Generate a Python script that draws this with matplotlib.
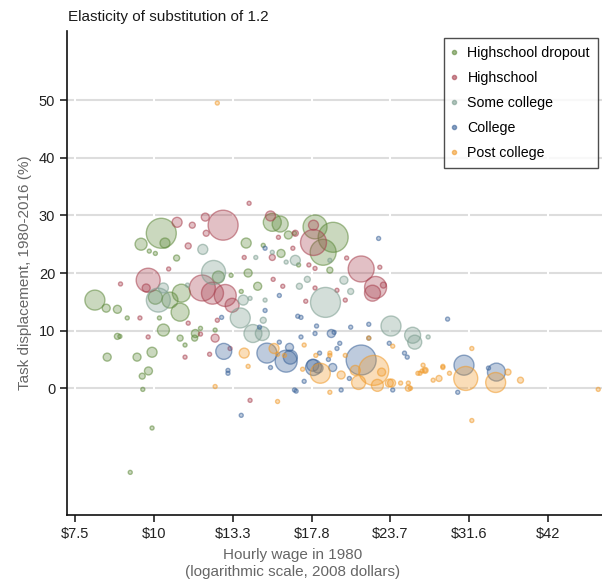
import numpy as np
import matplotlib
matplotlib.use("Agg")
import matplotlib.pyplot as plt
from matplotlib.colors import to_rgba
from matplotlib.lines import Line2D
from matplotlib.ticker import NullLocator

plt.rcParams['font.family'] = ['Liberation Sans Narrow', 'Liberation Sans', 'DejaVu Sans']

# Occupation cells: 1980 hourly wage, task displacement (%), employment weight
dropout_wage = [8.06, 10.27, 9.54, 10.41, 8.4, 8.75, 10.05, 11.05, 11.0, 10.6, 15.4, 15.85,
                18.0, 19.23, 18.54, 19.0, 14.0, 15.9, 16.33, 14.1, 14.6, 12.65, 10.35, 11.63,
                11.6, 9.93, 9.4, 8.43, 9.8, 9.58, 9.6, 9.93, 9.17, 8.75, 10.86, 11.0, 9.07,
                14.9, 16.7, 13.75, 12.5, 11.2, 16.95, 13.25, 8.83, 10.2, 11.85, 9.83, 10.05]
dropout_disp = [15.3, 26.9, 25.0, 25.2, 13.9, 13.7, 15.8, 16.5, 13.2, 15.3, 28.8, 28.5,
                28.0, 26.2, 23.6, 20.5, 25.2, 23.4, 26.6, 20.0, 17.7, 19.3, 10.1, 9.5,
                8.7, 6.25, 5.4, 5.4, 3.0, 2.1, -0.2, -6.9, -14.6, 9.0, 22.6, 8.7, 12.2,
                24.8, 26.9, 16.8, 10.1, 7.5, 21.4, 19.6, 9.0, 12.2, 10.4, 23.8, 23.4]
dropout_emp = [10.0, 22.5, 3.6, 2.5, 1.6, 1.6, 4.9, 8.1, 8.1, 6.4, 8.1, 6.4,
               14.4, 22.5, 16.9, 0.9, 2.5, 1.6, 1.6, 1.6, 1.6, 3.6, 3.6, 1.6,
               0.9, 2.5, 1.6, 1.6, 1.6, 0.9, 0.4, 0.4, 0.4, 0.9, 0.9, 0.9, 0.4,
               0.4, 0.4, 0.4, 0.4, 0.4, 0.4, 0.4, 0.4, 0.4, 0.4, 0.4, 0.4]

hs_wage = [12.87, 12.06, 10.88, 9.79, 9.72, 11.93, 12.38, 12.97, 13.3, 17.9, 17.9, 21.3,
           22.45, 22.2, 23.1, 15.3, 12.5, 16.75, 8.85, 9.5, 9.79, 11.33, 11.2, 11.85, 11.5,
           12.1, 11.33, 10.55, 12.6, 13.9, 15.4, 15.75, 15.45, 16.0, 14.2, 14.15, 16.6,
           17.6, 18.0, 20.2, 22.8, 18.0, 19.5, 20.1, 17.4, 12.25, 13.2]
hs_disp = [28.3, 29.7, 28.8, 18.75, 17.4, 17.4, 16.5, 16.1, 14.4, 25.3, 28.3, 20.7,
           17.5, 16.5, 17.9, 29.9, 8.7, 26.9, 18.1, 12.2, 8.9, 11.3, 5.4, 9.4, 28.3,
           26.9, 24.7, 20.7, 11.8, 22.7, 22.7, 26.2, 18.9, 17.7, -2.1, 32.1, 24.3,
           21.4, 20.8, 22.6, 21.0, 17.4, 17.0, 15.3, 15.1, 5.9, 6.9]
hs_emp = [22.5, 1.6, 2.5, 14.4, 1.6, 16.9, 12.1, 12.1, 4.9, 16.9, 2.5, 16.9,
          12.1, 6.4, 0.9, 2.5, 1.6, 0.9, 0.4, 0.4, 0.4, 0.4, 0.4, 0.4, 0.9,
          0.9, 0.9, 0.4, 0.4, 0.4, 0.9, 0.4, 0.4, 0.4, 0.4, 0.4, 0.4,
          0.4, 0.4, 0.4, 0.4, 0.4, 0.4, 0.4, 0.4, 0.4, 0.4]

sc_wage = [10.16, 12.43, 13.7, 14.35, 14.85, 18.7, 23.75, 25.7, 25.9, 16.75, 17.5, 20.0,
           20.5, 11.95, 10.35, 14.5, 16.2, 17.0, 15.4, 15.0, 14.2, 19.0, 11.3, 13.85,
           14.9, 27.2]
sc_disp = [15.3, 20.1, 12.2, 9.5, 9.5, 14.9, 10.8, 9.2, 8.0, 22.2, 18.9, 18.75,
           16.8, 24.1, 17.4, 22.7, 21.9, 17.7, 23.6, 15.3, 15.6, 22.2, 17.9, 15.3,
           11.8, 8.9]
sc_emp = [14.4, 14.4, 10.0, 8.1, 4.9, 22.5, 10.0, 6.4, 4.9, 2.5, 0.9, 1.6,
          0.9, 2.5, 2.5, 0.4, 0.4, 0.9, 0.4, 0.4, 0.4, 0.4, 0.4, 2.5,
          0.9, 0.4]

col_wage = [12.9, 15.1, 16.2, 16.4, 17.9, 21.3, 17.85, 18.2, 31.0, 34.9, 19.1, 16.45,
            19.2, 22.7, 16.9, 18.1, 18.0, 19.3, 20.5, 21.9, 19.7, 19.5, 23.6, 24.95,
            25.2, 21.9, 29.2, 20.4, 16.7, 19.8, 30.3, 33.9, 23.9, 15.8, 15.0, 17.1,
            14.7, 17.1, 15.0, 15.8, 13.1, 13.75, 17.3, 16.8, 15.3, 13.1, 18.3, 18.9, 12.8]
col_disp = [6.4, 6.1, 4.7, 7.1, 3.6, 4.9, 4.0, 3.5, 4.0, 2.8, 9.5, 5.4,
            3.6, 26.0, 12.5, 10.8, 9.5, 9.7, 10.6, 11.1, 7.8, 6.9, 7.8, 6.1,
            5.4, 8.7, 12.0, 1.7, -0.3, -0.3, -0.7, 3.5, -0.3, 16.1, 13.5, 12.3,
            10.6, 8.9, 24.3, 8.0, 3.1, -4.7, 1.2, -0.5, 3.6, 2.6, 6.1, 5.0, 12.3]
col_emp = [6.4, 10.0, 12.1, 1.6, 6.4, 22.5, 3.6, 2.5, 10.0, 8.1, 1.6, 4.9,
           1.6, 0.4, 0.4, 0.4, 0.4, 0.4, 0.4, 0.4, 0.4, 0.4, 0.4, 0.4,
           0.4, 0.4, 0.4, 0.4, 0.4, 0.4, 0.4, 0.4, 0.4, 0.4, 0.4, 0.4,
           0.4, 0.4, 0.4, 0.4, 0.4, 0.4, 0.4, 0.4, 0.4, 0.4, 0.4, 0.4, 0.4]

post_wage = [22.3, 21.1, 22.6, 23.6, 18.35, 31.2, 34.8, 36.4, 38.1, 13.9, 15.5, 20.85,
             22.95, 19.8, 23.8, 25.3, 26.9, 28.3, 21.9, 23.9, 17.3, 18.05, 19.0, 20.1,
             26.7, 26.9, 26.6, 27.7, 26.4, 31.9, 31.9, 50.6, 19.0, 25.5, 24.6, 28.7,
             29.4, 26.2, 25.3, 12.5, 15.7, 17.2, 15.7, 19.0, 14.1, 16.1, 28.7, 12.6]
post_disp = [3.1, 1.0, 0.5, 0.9, 2.6, 1.7, 1.0, 2.8, 1.4, 6.1, 6.9, 3.1,
             2.8, 2.3, 0.9, 0.0, 3.1, 1.7, 8.7, 7.3, 7.5, 5.7, 5.7, 5.7,
             4.0, 3.1, 3.0, 1.4, 2.6, 6.9, -5.6, -0.2, -0.7, 0.0, 0.9, 3.6,
             2.6, 2.6, 0.9, 0.3, -2.3, 3.3, 5.9, 6.1, 3.8, 5.7, 3.8, 49.5]
post_emp = [22.5, 4.9, 3.6, 1.6, 10.0, 14.4, 10.0, 0.9, 0.9, 2.5, 2.5, 2.5,
            1.6, 1.6, 1.6, 0.9, 0.9, 0.9, 0.4, 0.4, 0.4, 0.4, 0.4, 0.4,
            0.4, 0.4, 0.4, 0.4, 0.4, 0.4, 0.4, 0.4, 0.4, 0.4, 0.4, 0.4,
            0.4, 0.4, 0.4, 0.4, 0.4, 0.4, 0.4, 0.4, 0.4, 0.4, 0.4, 0.4]

groups = [
    ("Highschool dropout", dropout_wage, dropout_disp, dropout_emp, "#5f8a3c"),
    ("Highschool", hs_wage, hs_disp, hs_emp, "#a8414f"),
    ("Some college", sc_wage, sc_disp, sc_emp, "#7a9c8e"),
    ("College", col_wage, col_disp, col_emp, "#3b6399"),
    ("Post college", post_wage, post_disp, post_emp, "#f09a2a"),
]

xticks = [7.5, 10, 13.33, 17.78, 23.7, 31.6, 42.1]
xlabels = ["\\$7.5", "\\$10", "\\$13.3", "\\$17.8", "\\$23.7", "\\$31.6", "\\$42"]
yticks = [0, 10, 20, 30, 40, 50]

fig = plt.figure(figsize=(6.02, 5.81), dpi=100)
ax = fig.add_axes([0.1113, 0.1136, 0.8887, 0.833])

for name, w, d, e, c in groups:
    ax.scatter(w, d, s=np.array(e) * 20.7, facecolor=to_rgba(c, 0.33),
               edgecolor=to_rgba(c, 0.55), linewidth=1.0, zorder=2)

ax.set_xscale("log")
ax.set_xlim(7.28, 51.3)
ax.set_ylim(-22, 62)
ax.set_xticks(xticks)
ax.set_xticklabels(xlabels)
ax.xaxis.set_minor_locator(NullLocator())
ax.set_yticks(yticks)

# light horizontal grid broken by white verticals at the wage ticks
for y in yticks:
    ax.axhline(y, color="#dddddd", lw=1.5, zorder=0.5)
for x in xticks:
    ax.axvline(x, color="white", lw=1.5, zorder=0.6)

for side in ["top", "right"]:
    ax.spines[side].set_visible(False)
for side in ["left", "bottom"]:
    ax.spines[side].set_linewidth(1.2)
    ax.spines[side].set_color("#111111")
ax.tick_params(direction="out", length=5, width=1.1, colors="#111111",
               labelsize=10.5, labelcolor="#222222")

ax.set_ylabel("Task displacement, 1980-2016 (%)", color="#666666", fontsize=11)
ax.yaxis.set_label_coords(-0.066, 0.5)
ax.set_xlabel("Hourly wage in 1980\n(logarithmic scale, 2008 dollars)",
              color="#666666", fontsize=11, linespacing=1.2)
ax.xaxis.set_label_coords(0.422, -0.069, transform=ax.transAxes)
ax.xaxis.label.set_va("top")

fig.text(0.113, 0.97, "Elasticity of substitution of 1.2", fontsize=11,
         color="#1a1a1a", ha="left", va="center")

handles = [Line2D([], [], ls="none", marker="o", markersize=3,
                  markerfacecolor=to_rgba(c, 0.6), markeredgecolor=to_rgba(c, 0.6))
           for _, _, _, _, c in groups]
leg = ax.legend(handles, [g[0] for g in groups], loc="upper right",
                bbox_to_anchor=(0.992, 0.9855), fontsize=10.2, frameon=True,
                fancybox=False, edgecolor="#222222", handlelength=0.3,
                handletextpad=0.8, labelspacing=0.78, borderpad=0.55,
                borderaxespad=0)
leg.get_frame().set_linewidth(1.0)
leg.set_zorder(5)

fig.savefig("out.png", dpi=100)
